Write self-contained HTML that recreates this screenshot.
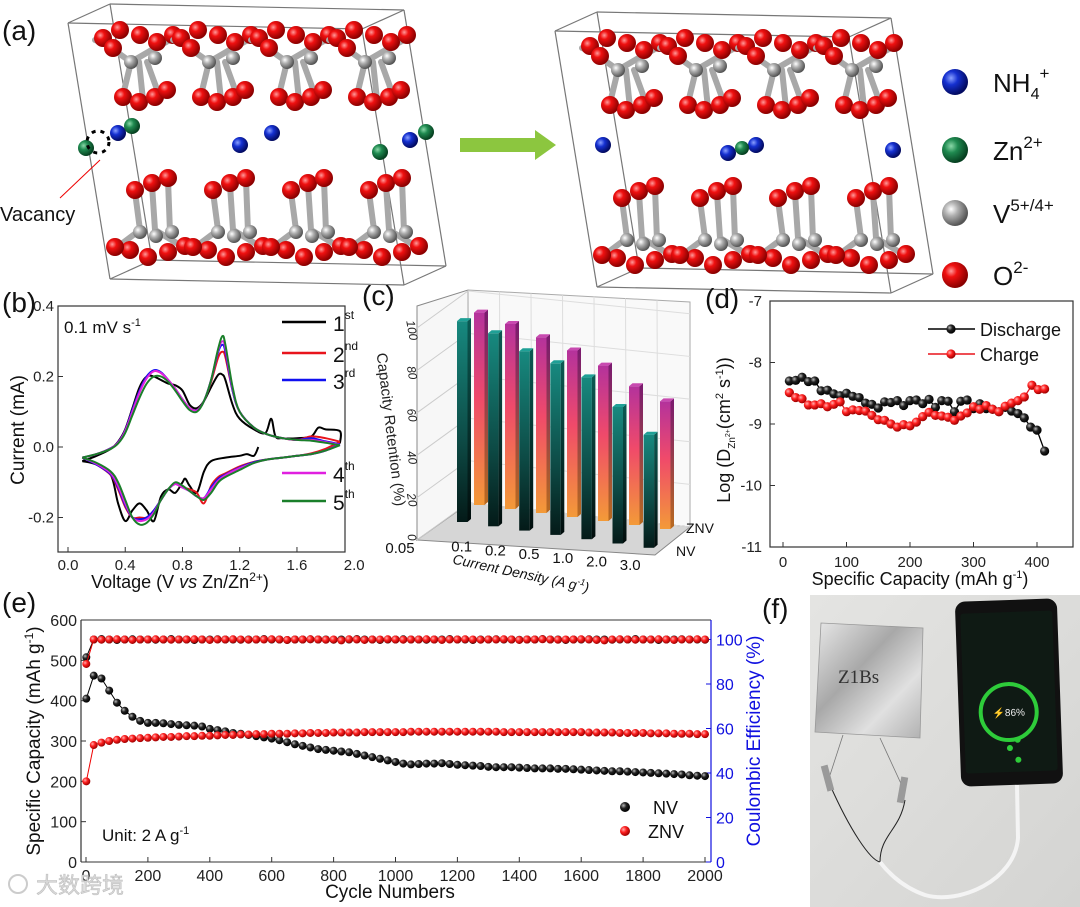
<!DOCTYPE html>
<html><head><meta charset="utf-8">
<style>
html,body{margin:0;padding:0;background:#fff;}
svg{display:block;font-family:"Liberation Sans","Noto Sans CJK SC",sans-serif;}
</style></head>
<body>
<svg id="fig" width="1080" height="907" viewBox="0 0 1080 907" xmlns="http://www.w3.org/2000/svg">
<defs>
<radialGradient id="gRed" cx="35%" cy="35%" r="65%"><stop offset="0" stop-color="#ff9a9a"/><stop offset="0.35" stop-color="#f01010"/><stop offset="1" stop-color="#8a0000"/></radialGradient>
<radialGradient id="gGrey" cx="35%" cy="35%" r="65%"><stop offset="0" stop-color="#ffffff"/><stop offset="0.4" stop-color="#b0b0b0"/><stop offset="1" stop-color="#555"/></radialGradient>
<radialGradient id="gBlue" cx="35%" cy="35%" r="65%"><stop offset="0" stop-color="#8aa0ff"/><stop offset="0.4" stop-color="#1530d0"/><stop offset="1" stop-color="#020a60"/></radialGradient>
<radialGradient id="gGreen" cx="35%" cy="35%" r="65%"><stop offset="0" stop-color="#8ad8a8"/><stop offset="0.4" stop-color="#1f8a50"/><stop offset="1" stop-color="#064020"/></radialGradient>
<radialGradient id="mBlack" cx="35%" cy="35%" r="65%"><stop offset="0" stop-color="#bbb"/><stop offset="0.45" stop-color="#222"/><stop offset="1" stop-color="#000"/></radialGradient>
<radialGradient id="mRed" cx="35%" cy="35%" r="65%"><stop offset="0" stop-color="#ffb0b0"/><stop offset="0.45" stop-color="#ff2020"/><stop offset="1" stop-color="#a00000"/></radialGradient>
<linearGradient id="tealF" x1="0" y1="0" x2="0" y2="1"><stop offset="0" stop-color="#17897f"/><stop offset="0.6" stop-color="#0d4a45"/><stop offset="1" stop-color="#041a18"/></linearGradient>
<linearGradient id="tealS" x1="0" y1="0" x2="0" y2="1"><stop offset="0" stop-color="#0b5a53"/><stop offset="1" stop-color="#020d0c"/></linearGradient>
<linearGradient id="znvF" x1="0" y1="0" x2="0" y2="1"><stop offset="0" stop-color="#b4329c"/><stop offset="0.45" stop-color="#f04a6a"/><stop offset="1" stop-color="#f39a38"/></linearGradient>
<linearGradient id="znvS" x1="0" y1="0" x2="0" y2="1"><stop offset="0" stop-color="#7a1a70"/><stop offset="1" stop-color="#b86a20"/></linearGradient>
<linearGradient id="pouch" x1="0" y1="0" x2="1" y2="1"><stop offset="0" stop-color="#e8e8e8"/><stop offset="0.4" stop-color="#a8a8a8"/><stop offset="0.7" stop-color="#e0e0e0"/><stop offset="1" stop-color="#b0b0b0"/></linearGradient>
<linearGradient id="photoBg" x1="0" y1="0" x2="1" y2="1"><stop offset="0" stop-color="#e4e4e2"/><stop offset="1" stop-color="#d4d4d2"/></linearGradient>
</defs>
<g id="panelA"></g>
<g id="panelB"></g>
<g id="panelC"></g>
<g id="panelD"></g>
<g id="panelE"></g>
<g id="panelF"></g>
</svg>
<script>
// ===== Panel b data (CV curves) =====
const cvVoltUp = [0.1,0.2,0.3,0.35,0.4,0.45,0.5,0.55,0.6,0.65,0.7,0.75,0.8,0.85,0.9,0.95,1.0,1.05,1.08,1.1,1.15,1.2,1.3,1.4,1.5,1.6,1.7,1.8,1.9];
const cvVoltDown = [1.9,1.8,1.7,1.6,1.5,1.4,1.3,1.2,1.1,1.05,1.0,0.95,0.9,0.85,0.8,0.75,0.7,0.65,0.6,0.55,0.5,0.45,0.4,0.35,0.3,0.2,0.1];
const cv2Up = [-0.03,-0.02,-0.003,0.013,0.047,0.105,0.16,0.2,0.215,0.21,0.19,0.165,0.135,0.11,0.105,0.13,0.185,0.255,0.27,0.255,0.16,0.1,0.055,0.035,0.025,0.02,0.03,0.025,0.015];
const cv3Up = [-0.03,-0.02,-0.003,0.013,0.047,0.105,0.16,0.2,0.218,0.212,0.19,0.165,0.135,0.11,0.104,0.13,0.19,0.27,0.29,0.27,0.16,0.1,0.055,0.035,0.025,0.02,0.025,0.016,0.008];
const cv4Up = [-0.03,-0.02,-0.004,0.012,0.045,0.1,0.155,0.195,0.215,0.21,0.19,0.165,0.135,0.11,0.103,0.13,0.19,0.275,0.3,0.28,0.165,0.1,0.055,0.035,0.025,0.02,0.02,0.014,0.006];
const cv5Up = [-0.03,-0.02,-0.005,0.01,0.04,0.09,0.14,0.18,0.2,0.2,0.185,0.16,0.13,0.105,0.1,0.13,0.19,0.28,0.315,0.29,0.17,0.1,0.055,0.035,0.025,0.02,0.018,0.012,0.005];
const cv2Down = [0.015,-0.005,-0.018,-0.025,-0.03,-0.035,-0.042,-0.055,-0.075,-0.085,-0.11,-0.16,-0.13,-0.12,-0.115,-0.105,-0.12,-0.15,-0.18,-0.2,-0.2,-0.2,-0.17,-0.12,-0.08,-0.05,-0.03];
const cv3Down = [0.008,-0.01,-0.02,-0.025,-0.03,-0.035,-0.043,-0.058,-0.078,-0.09,-0.115,-0.145,-0.14,-0.125,-0.115,-0.105,-0.12,-0.15,-0.18,-0.2,-0.205,-0.2,-0.165,-0.115,-0.078,-0.05,-0.03];
const cv4Down = [0.006,-0.01,-0.02,-0.025,-0.03,-0.035,-0.045,-0.06,-0.08,-0.095,-0.12,-0.145,-0.14,-0.125,-0.115,-0.105,-0.12,-0.15,-0.185,-0.205,-0.21,-0.2,-0.16,-0.11,-0.075,-0.048,-0.03];
const cv5Down = [0.005,-0.01,-0.02,-0.025,-0.03,-0.035,-0.045,-0.065,-0.085,-0.1,-0.13,-0.15,-0.14,-0.125,-0.11,-0.1,-0.12,-0.15,-0.19,-0.215,-0.22,-0.2,-0.15,-0.1,-0.07,-0.045,-0.03];
const cv1VoltUp = [0.1,0.2,0.3,0.35,0.4,0.45,0.5,0.55,0.6,0.65,0.7,0.75,0.8,0.85,0.9,0.95,1.0,1.05,1.08,1.1,1.15,1.2,1.3,1.38,1.42,1.45,1.5,1.6,1.7,1.75,1.8,1.9,1.9];
const cv1Up = [-0.04,-0.025,-0.005,0.015,0.05,0.11,0.17,0.2,0.2,0.19,0.18,0.175,0.16,0.12,0.11,0.13,0.17,0.205,0.205,0.19,0.12,0.08,0.05,0.04,0.08,0.03,0.025,0.025,0.03,0.055,0.05,0.045,0.01];
const cv1VoltDown = [1.33,1.3,1.25,1.2,1.1,1.0,0.95,0.9,0.85,0.82,0.8,0.75,0.7,0.65,0.6,0.55,0.5,0.45,0.4,0.35,0.3,0.2,0.1];
const cv1Down = [0.0,-0.025,-0.02,-0.025,-0.03,-0.04,-0.07,-0.13,-0.11,-0.09,-0.1,-0.13,-0.12,-0.14,-0.21,-0.18,-0.16,-0.18,-0.21,-0.16,-0.08,-0.05,-0.04];
const cvXTicks = [0.0,0.4,0.8,1.2,1.6,2.0];
const cvYTicks = [0.4,0.2,0.0,-0.2];

// ===== Panel c data =====
const rateCats = ["0.05","0.1","0.2","0.5","1.0","2.0","3.0"];
const retentionNV = [103,99,92,88,83,70,58];
const retentionZNV = [104,100,95,90,84,75,69];
const retTicks = [0,20,40,60,80,100];

// ===== Panel d data =====
const capDis = [10,20,30,40,50,60,70,80,90,100,110,120,130,140,150,160,170,180,190,200,210,220,230,240,250,260,270,280,290,300,310,320,330,340,350,360,370,380,390,400,412];
const logDDis = [-8.3,-8.29,-8.24,-8.31,-8.3,-8.46,-8.45,-8.51,-8.54,-8.5,-8.55,-8.57,-8.66,-8.68,-8.74,-8.64,-8.65,-8.62,-8.7,-8.62,-8.61,-8.67,-8.6,-8.73,-8.62,-8.63,-8.8,-8.63,-8.61,-8.75,-8.67,-8.75,-8.76,-8.8,-8.73,-8.79,-8.83,-8.9,-9.05,-9.1,-9.44];
const capChg = [10,20,30,40,50,60,70,80,90,100,110,120,130,140,150,160,170,180,190,200,210,220,230,240,250,260,270,280,290,300,310,320,330,340,350,360,370,380,392,402,412];
const logDChg = [-8.49,-8.57,-8.59,-8.69,-8.69,-8.67,-8.72,-8.68,-8.64,-8.8,-8.77,-8.78,-8.79,-8.86,-8.93,-8.94,-9.0,-9.05,-9.01,-9.03,-8.97,-8.88,-8.81,-8.86,-8.87,-8.89,-8.94,-8.87,-8.82,-8.72,-8.76,-8.7,-8.76,-8.8,-8.71,-8.66,-8.62,-8.56,-8.37,-8.44,-8.43];
const dXTicks = [0,100,200,300,400];
const dYTicks = [-7,-8,-9,-10,-11];

// ===== Panel e data =====
const capNV = [405,462,455,425,395,375,360,350,345,345,344,342,340,339,338,336,330,327,324,320,318,315,312,309,306,302,297,292,288,284,280,278,276,274,272,268,264,260,256,252,248,244,242,243,244,244,245,243,241,240,239,238,236,235,235,235,234,233,232,232,232,231,231,230,229,228,227,226,225,225,224,223,222,221,220,219,218,217,215,214,213];
const capZNV = [200,290,296,300,303,305,306,307,308,309,310,310,311,312,312,313,313,314,315,315,316,316,317,317,318,318,318,319,319,320,320,320,321,321,321,321,322,322,322,322,322,322,323,323,323,323,323,323,323,323,323,323,323,323,322,322,322,322,322,322,322,322,322,322,322,321,321,321,321,320,320,320,320,319,319,319,318,318,318,317,317];
const ceNV = [92,100,100.2,100,99.8,100,100.1,100,100,99.9,100,100.2,100,100,99.8,100,100,100.1,100,100,99.9,100,100,100.2,100,100,99.8,100,100,100.1,100,100,99.9,100,100,100.2,100,100,99.8,100,100,100.1,100,100,99.9,100,100,100.2,100,100,99.8,100,100,100.1,100,100,99.9,100,100,100.2,100,100,99.8,100,100,100.1,100,100,99.9,100,100,100.2,100,100,99.8,100,100,100.1,100,100,99.9];
const ceZNV = [89,100,99.9,100,100.1,100,99.8,100,100,100.1,100,99.9,100,100,100.1,100,99.8,100,100,100.1,100,99.9,100,100,100.1,100,99.8,100,100,100.1,100,99.9,100,99.6,100.1,100,99.8,100,100,100.1,100,99.9,100,100,100.1,100,99.8,100,100,100.1,100,99.9,100,100,100.1,100,99.8,100,100,100.1,100,99.9,100,100,100.1,100,99.8,99.6,100,100.1,100,99.9,100,100,100.1,100,99.8,100,100,100.1,100];
const cycles = capNV.map((v,i)=> i===0 ? 1 : i*25);
const eXTicks = [0,200,400,600,800,1000,1200,1400,1600,1800,2000];
const eYTicks = [0,100,200,300,400,500,600];
const ceTicks = [0,20,40,60,80,100];

const NS = "http://www.w3.org/2000/svg";
function mk(tag, attrs, parent, text){
  const e = document.createElementNS(NS, tag);
  for (const k in attrs) e.setAttribute(k, attrs[k]);
  if (text !== undefined) e.textContent = text;
  parent.appendChild(e);
  return e;
}
function smooth(pts){
  let d = "M"+pts[0][0].toFixed(1)+","+pts[0][1].toFixed(1);
  for (let i=0;i<pts.length-1;i++){
    const p0=pts[Math.max(0,i-1)], p1=pts[i], p2=pts[i+1], p3=pts[Math.min(pts.length-1,i+2)];
    const c1x=p1[0]+(p2[0]-p0[0])/6, c1y=p1[1]+(p2[1]-p0[1])/6;
    const c2x=p2[0]-(p3[0]-p1[0])/6, c2y=p2[1]-(p3[1]-p1[1])/6;
    d += " C"+c1x.toFixed(1)+","+c1y.toFixed(1)+" "+c2x.toFixed(1)+","+c2y.toFixed(1)+" "+p2[0].toFixed(1)+","+p2[1].toFixed(1);
  }
  return d;
}

// ================= Panel A =================
(function(){
  const g = document.getElementById('panelA');
  let t = mk('text',{x:2,y:40,'font-size':28,fill:'#111'},g,'(a)');
   
  function structure(ox, oy, name){
    const sg = mk('g',{},g);
     
    const P0=[68+ox,23+oy], a=[42,-19], b=[294,6], c=[42,256];
    const v=(i,j,k)=>[P0[0]+i*a[0]+j*b[0]+k*c[0], P0[1]+i*a[1]+j*b[1]+k*c[1]];
    const edges=[[[0,0,0],[1,0,0]],[[0,0,0],[0,1,0]],[[1,0,0],[1,1,0]],[[0,1,0],[1,1,0]],
      [[0,0,1],[1,0,1]],[[0,0,1],[0,1,1]],[[1,0,1],[1,1,1]],[[0,1,1],[1,1,1]],
      [[0,0,0],[0,0,1]],[[1,0,0],[1,0,1]],[[0,1,0],[0,1,1]],[[1,1,0],[1,1,1]]];
    edges.forEach(e=>{const p=v(...e[0]),q=v(...e[1]);mk('line',{x1:p[0],y1:p[1],x2:q[0],y2:q[1],stroke:'#777','stroke-width':1.2},sg);});
    for (let k=0;k<4;k++){
      const gx = ox+125+k*78, gxb = ox+140+k*78;
      [[-18,45,6,62],[6,62,30,48],[6,62,-2,95],[14,62,18,100],[22,62,34,95],[-30,40,-18,45],[30,48,45,40]].forEach(s=>{
        mk('line',{x1:gx+s[0],y1:oy+s[1],x2:gx+s[2],y2:oy+s[3],stroke:'#a8a8a8','stroke-width':6,'stroke-linecap':'round'},sg);});
      [[-22,38],[-5,30],[15,35],[32,42],[48,35],[-12,48]].forEach(p=>mk('circle',{cx:gx+p[0],cy:oy+p[1],r:9,fill:'url(#gRed)'},sg));
      [[6,62],[30,58]].forEach(p=>mk('circle',{cx:gx+p[0],cy:oy+p[1],r:7,fill:'url(#gGrey)'},sg));
      [[-2,97],[14,102],[30,97],[42,90]].forEach(p=>mk('circle',{cx:gx+p[0],cy:oy+p[1],r:9,fill:'url(#gRed)'},sg));
      [[-5,192,0,230],[12,185,15,230],[28,180,30,232],[0,230,-20,245],[15,230,40,245]].forEach(s=>{
        mk('line',{x1:gxb+s[0],y1:oy+s[1],x2:gxb+s[2],y2:oy+s[3],stroke:'#a8a8a8','stroke-width':6,'stroke-linecap':'round'},sg);});
      [[-5,190],[12,183],[28,178]].forEach(p=>mk('circle',{cx:gxb+p[0],cy:oy+p[1],r:9,fill:'url(#gRed)'},sg));
      [[-10,250],[8,257],[28,252],[45,246],[-25,247]].forEach(p=>mk('circle',{cx:gxb+p[0],cy:oy+p[1],r:9,fill:'url(#gRed)'},sg));
      [[0,232],[16,236],[32,232]].forEach(p=>mk('circle',{cx:gxb+p[0],cy:oy+p[1],r:7,fill:'url(#gGrey)'},sg));
    }
    return sg;
  }
  const s1 = structure(0,0,'pristine-structure');
  [[118,133],[240,145],[272,133],[410,140]].forEach(p=>mk('circle',{cx:p[0],cy:p[1],r:8,fill:'url(#gBlue)'},s1));
  [[132,126],[86,148],[380,152],[426,132]].forEach(p=>mk('circle',{cx:p[0],cy:p[1],r:8,fill:'url(#gGreen)'},s1));
  mk('circle',{cx:98,cy:142,r:11,fill:'none',stroke:'#000','stroke-width':3,'stroke-dasharray':'4 5'},s1);
  mk('line',{x1:60,y1:198,x2:100,y2:160,stroke:'#e00','stroke-width':1},s1);
  t = mk('text',{x:0,y:221,'font-size':20,fill:'#111'},g,'Vacancy');
   
  const s2 = structure(487,8,'zinc-inserted-structure');
  [[603,145],[728,153],[756,145],[893,150]].forEach(p=>mk('circle',{cx:p[0],cy:p[1],r:8,fill:'url(#gBlue)'},s2));
  mk('circle',{cx:742,cy:148,r:7,fill:'url(#gGreen)'},s2);
  const ar = mk('polygon',{points:'460,138 535,138 535,130 556,145 535,160 535,152 460,152',fill:'#8cc63f'},g);
   
  const leg = [['gBlue','NH',82,'4','+'],['gGreen','Zn',150,'','2+'],['gGrey','V',213,'','5+/4+'],['gRed','O',275,'','2-']];
  leg.forEach(l=>{
    const lg = mk('g',{},g);
     
    mk('circle',{cx:955,cy:l[2],r:13,fill:'url('+'#'+l[0]+')'},lg);
    const tx = mk('text',{x:993,y:l[2]+10,'font-size':26,fill:'#111'},lg);
    mk('tspan',{},tx,l[1]);
    if(l[3]) mk('tspan',{'font-size':16,dy:7},tx,l[3]);
    mk('tspan',{'font-size':17,dy:l[3]?-20:-12},tx,l[4]);
  });
})();

// ================= Panel B =================
(function(){
  const g = document.getElementById('panelB');
  const X0=58,X1=345,Y0=306,Y1=552;
  const xb=v=>68+v*143.1, yb=i=>447-i*352.5;
  let t = mk('text',{x:2,y:312,'font-size':28,fill:'#111'},g,'(b)');
   
  const box = mk('rect',{x:X0,y:Y0,width:X1-X0,height:Y1-Y0,fill:'none',stroke:'#333','stroke-width':1.2},g);
   
  cvXTicks.forEach(v=>{
    const x=xb(v);
    if (x<=X1) mk('line',{x1:x,y1:Y1,x2:x,y2:Y1-5,stroke:'#333'},g);
    const tl = mk('text',{x:x,y:Y1+18,'font-size':15,'text-anchor':'middle',fill:'#222'},g,v.toFixed(1));
     
  });
  cvYTicks.forEach(v=>{
    const y=yb(v);
    mk('line',{x1:X0,y1:y,x2:X0+5,y2:y,stroke:'#333'},g);
    const tl = mk('text',{x:X0-4,y:y+5,'font-size':15,'text-anchor':'end',fill:'#222'},g,v.toFixed(1));
     
  });
  t = mk('text',{x:0,y:0,'font-size':19,'text-anchor':'middle',fill:'#111',transform:'translate(24,430) rotate(-90)'},g,'Current (mA)');
   
  t = mk('text',{x:180,y:588,'font-size':18,'text-anchor':'middle',fill:'#111'},g);
   
  mk('tspan',{},t,'Voltage (V '); mk('tspan',{'font-style':'italic'},t,'vs'); mk('tspan',{},t,' Zn/Zn'); mk('tspan',{'font-size':12,dy:-7},t,'2+'); mk('tspan',{dy:7},t,')');
  t = mk('text',{x:64,y:333,'font-size':17,fill:'#111'},g);
   
  mk('tspan',{},t,'0.1 mV s'); mk('tspan',{'font-size':11,dy:-7},t,'-1');
  const series = [
    ['cycle-1','#000',cv1VoltUp,cv1Up,cv1VoltDown,cv1Down,'1','st',322],
    ['cycle-2','#e8141c',cvVoltUp,cv2Up,cvVoltDown,cv2Down,'2','nd',353],
    ['cycle-3','#1010f0',cvVoltUp,cv3Up,cvVoltDown,cv3Down,'3','rd',380],
    ['cycle-4','#e020e0',cvVoltUp,cv4Up,cvVoltDown,cv4Down,'4','th',473],
    ['cycle-5','#1a7f2a',cvVoltUp,cv5Up,cvVoltDown,cv5Down,'5','th',501]
  ];
  series.forEach(s=>{
    const sg = mk('g',{},g);
     
    const up = s[2].map((v,i)=>[xb(v),yb(s[3][i])]);
    const dn = s[4].map((v,i)=>[xb(v),yb(s[5][i])]);
    mk('path',{d:smooth(up),fill:'none',stroke:s[1],'stroke-width':2},sg);
    mk('path',{d:smooth(dn),fill:'none',stroke:s[1],'stroke-width':2},sg);
    const lg = mk('g',{},g);
     
    mk('line',{x1:282,y1:s[8],x2:326,y2:s[8],stroke:s[1],'stroke-width':2.5},lg);
    const tx = mk('text',{x:333,y:s[8]+9,'font-size':21,fill:'#111'},lg);
    mk('tspan',{},tx,s[6]); mk('tspan',{'font-size':12,dy:-12},tx,s[7]);
  });
})();

// ================= Panel C =================
(function(){
  const g = document.getElementById('panelC');
  let t = mk('text',{x:362,y:305,'font-size':28,fill:'#111'},g,'(c)');
   
  const lw = mk('polygon',{points:'417,306 468,290 469,503 417,540',fill:'#f7f7f7',stroke:'#888','stroke-width':1},g);
   
  const bw = mk('polygon',{points:'468,290 690,302 690,527 469,503',fill:'#f9f9f9',stroke:'#aaa','stroke-width':1},g);
   
  const fl = mk('polygon',{points:'417,540 469,503 690,527 655,555',fill:'#d6d6d6',stroke:'#888','stroke-width':1},g);
   
  const yl = v=>540-v*2.12, yw=v=>503-v*2.12;
  retTicks.forEach(v=>{
    mk('line',{x1:417,y1:yl(v),x2:468,y2:yw(v),stroke:'#ccc','stroke-width':1},g);
    mk('line',{x1:468,y1:yw(v),x2:690,y2:yw(v)+24*(1-v/100*0.05),stroke:'#ddd','stroke-width':1},g);
    const tl = mk('text',{x:0,y:0,'font-size':12,'font-style':'italic','text-anchor':'middle',fill:'#222',transform:'translate(408,'+(yl(v)+(v===0?-2:3))+') rotate(80)'},g,String(v));
     
  });
  for(let i=1;i<7;i++){ mk('line',{x1:468+i*31.5,y1:290+i*1.7,x2:469+i*31.5,y2:503+i*3.4,stroke:'#ddd'},g); }
  t = mk('text',{x:0,y:0,'font-size':15,'text-anchor':'middle',fill:'#222',transform:'translate(386,430) rotate(83)'},g,'Capacity Retention (%)');
   
  function bar(bx,by,val,hs,front,side,top,name){
    const h=val*hs, w=10.5, d=3.5;
    const bg = mk('g',{},g);
     
    mk('rect',{x:bx,y:by-h,width:w,height:h,fill:'url(#'+front+')'},bg);
    mk('polygon',{points:[bx+w,by-h, bx+w+d,by-h-3, bx+w+d,by-3, bx+w,by].join(' '),fill:'url(#'+side+')'},bg);
    mk('polygon',{points:[bx,by-h, bx+d,by-h-3, bx+w+d,by-h-3, bx+w,by-h].join(' '),fill:top},bg);
  }
  retentionZNV.forEach((v,i)=>bar(474+i*31,505+i*4,v,1.85,'znvF','znvS','#c84ab0','bar-znv-'+rateCats[i]));
  retentionNV.forEach((v,i)=>bar(457+i*31.1,522+i*4.3,v,1.95,'tealF','tealS','#1fa096','bar-nv-'+rateCats[i]));
  rateCats.forEach((c,i)=>{
    const lx = i===0?400:428+i*33.7, ly=(i===0?553:548)+i*3.7;
    const tl = mk('text',{x:lx,y:ly,'font-size':15,'text-anchor':'middle',fill:'#111'},g,c);
     
  });
  t = mk('text',{x:0,y:0,'font-size':14,'font-style':'italic','text-anchor':'middle',fill:'#111',transform:'translate(520,578) rotate(12)'},g);
   
  mk('tspan',{},t,'Current Density (A g'); mk('tspan',{'font-size':9,dy:-6},t,'-1'); mk('tspan',{dy:6},t,')');
  t = mk('text',{x:686,y:533,'font-size':14,fill:'#111'},g,'ZNV');
   
  t = mk('text',{x:676,y:556,'font-size':14,fill:'#111'},g,'NV');
   
})();

// ================= Panel D =================
(function(){
  const g = document.getElementById('panelD');
  const X0=770,X1=1073,Y0=301,Y1=547;
  const xd=c=>783+c*0.635, yd=v=>301-(v+7)*61.5;
  let t = mk('text',{x:705,y:308,'font-size':28,fill:'#111'},g,'(d)');
   
  const box = mk('rect',{x:X0,y:Y0,width:X1-X0,height:Y1-Y0,fill:'none',stroke:'#333','stroke-width':1.2},g);
   
  dXTicks.forEach(v=>{
    mk('line',{x1:xd(v),y1:Y1,x2:xd(v),y2:Y1-5,stroke:'#333'},g);
    const tl = mk('text',{x:xd(v),y:Y1+20,'font-size':15,'text-anchor':'middle',fill:'#222'},g,String(v));
     
  });
  dYTicks.forEach(v=>{
    mk('line',{x1:X0,y1:yd(v),x2:X0+5,y2:yd(v),stroke:'#333'},g);
    const tl = mk('text',{x:X0-8,y:yd(v)+5,'font-size':15,'text-anchor':'end',fill:'#222'},g,String(v));
     
  });
  t = mk('text',{x:920,y:585,'font-size':18,'text-anchor':'middle',fill:'#111'},g);
   
  mk('tspan',{},t,'Specific Capacity (mAh g'); mk('tspan',{'font-size':11,dy:-7},t,'-1'); mk('tspan',{dy:7},t,')');
  t = mk('text',{x:0,y:0,'font-size':18,'text-anchor':'middle',fill:'#111',transform:'translate(730,430) rotate(-90)'},g);
   
  mk('tspan',{},t,'Log (D'); mk('tspan',{'font-size':10,dy:5},t,'Zn'); mk('tspan',{'font-size':7,dy:-5},t,'2+'); mk('tspan',{dy:0},t,'(cm'); mk('tspan',{'font-size':11,dy:-7},t,'2'); mk('tspan',{dy:7},t,' s'); mk('tspan',{'font-size':11,dy:-7},t,'-1'); mk('tspan',{dy:7},t,'))');
  [['discharge',capDis,logDDis,'#000','mBlack',329,'Discharge'],['charge',capChg,logDChg,'#e8141c','mRed',354,'Charge']].forEach(s=>{
    const sg = mk('g',{},g);
     
    mk('polyline',{points:s[1].map((c,i)=>xd(c)+','+yd(s[2][i])).join(' '),fill:'none',stroke:s[3],'stroke-width':1.3},sg);
    s[1].forEach((c,i)=>{
      const m = mk('circle',{cx:xd(c),cy:yd(s[2][i]),r:4.6,fill:'url(#'+s[4]+')'},sg);
       
    });
    const lg = mk('g',{},g);
     
    mk('line',{x1:928,y1:s[5],x2:975,y2:s[5],stroke:s[3],'stroke-width':1.5},lg);
    mk('circle',{cx:951,cy:s[5],r:4.6,fill:'url(#'+s[4]+')'},lg);
    mk('text',{x:980,y:s[5]+7,'font-size':18,fill:'#111'},lg,s[6]);
  });
})();

// ================= Panel E =================
(function(){
  const g = document.getElementById('panelE');
  const X0=81,X1=711,Y0=620,Y1=862;
  const xe=c=>86+c*0.3095, ye=v=>862-v*0.4033, yce=p=>862-p*2.225;
  let t = mk('text',{x:2,y:612,'font-size':28,fill:'#111'},g,'(e)');
   
  mk('line',{x1:X0,y1:Y0,x2:X1,y2:Y0,stroke:'#333'},g);
  mk('line',{x1:X0,y1:Y1,x2:X1,y2:Y1,stroke:'#333'},g);
  const la = mk('line',{x1:X0,y1:Y0,x2:X0,y2:Y1,stroke:'#333','stroke-width':1.2},g);
   
  const ra = mk('line',{x1:X1,y1:Y0,x2:X1,y2:Y1,stroke:'#1010e0','stroke-width':1.2},g);
   
  eXTicks.forEach(v=>{
    mk('line',{x1:xe(v),y1:Y1,x2:xe(v),y2:Y1-5,stroke:'#333'},g);
    const tl = mk('text',{x:xe(v),y:Y1+19,'font-size':16,'text-anchor':'middle',fill:'#222'},g,String(v));
     
  });
  eYTicks.forEach(v=>{
    mk('line',{x1:X0,y1:ye(v),x2:X0+5,y2:ye(v),stroke:'#333'},g);
    const tl = mk('text',{x:X0-4,y:ye(v)+6,'font-size':16,'text-anchor':'end',fill:'#222'},g,String(v));
     
  });
  ceTicks.forEach(v=>{
    mk('line',{x1:X1,y1:yce(v),x2:X1-5,y2:yce(v),stroke:'#1010e0'},g);
    const tl = mk('text',{x:X1+5,y:yce(v)+6,'font-size':16,fill:'#1010e0'},g,String(v));
     
  });
  t = mk('text',{x:0,y:0,'font-size':19,'text-anchor':'middle',fill:'#111',transform:'translate(40,741) rotate(-90)'},g);
   
  mk('tspan',{},t,'Specific Capacity (mAh g'); mk('tspan',{'font-size':12,dy:-7},t,'-1'); mk('tspan',{dy:7},t,')');
  t = mk('text',{x:0,y:0,'font-size':19,'text-anchor':'middle',fill:'#1010e0',transform:'translate(760,741) rotate(-90)'},g,'Coulombic Efficiency (%)');
   
  t = mk('text',{x:390,y:898,'font-size':19,'text-anchor':'middle',fill:'#111'},g,'Cycle Numbers');
   
  function pts(name,vals,yf,grad,line){
    const sg = mk('g',{},g);
     
    mk('polyline',{points:cycles.map((c,i)=>xe(c)+','+yf(vals[i])).join(' '),fill:'none',stroke:line,'stroke-width':1},sg);
    cycles.forEach((c,i)=>{
      const m = mk('circle',{cx:xe(c),cy:yf(vals[i]),r:4,fill:'url(#'+grad+')'},sg);
       
    });
  }
  pts('nv-capacity',capNV,ye,'mBlack','#000');
  pts('znv-capacity',capZNV,ye,'mRed','#e00');
  pts('nv-efficiency',ceNV,yce,'mBlack','#000');
  pts('znv-efficiency',ceZNV,yce,'mRed','#e00');
  let lg = mk('g',{},g);
   
  mk('circle',{cx:625,cy:807,r:5,fill:'url(#mBlack)'},lg);
  mk('text',{x:653,y:814,'font-size':18,fill:'#111'},lg,'NV');
  lg = mk('g',{},g);
   
  mk('circle',{cx:625,cy:831,r:5,fill:'url(#mRed)'},lg);
  mk('text',{x:648,y:838,'font-size':18,fill:'#111'},lg,'ZNV');
  t = mk('text',{x:102,y:841,'font-size':17,fill:'#111'},g);
   
  mk('tspan',{},t,'Unit: 2 A g'); mk('tspan',{'font-size':11,dy:-7},t,'-1');
  t = mk('text',{x:36,y:893,'font-size':22,fill:'#d8d8d8',stroke:'#bbb','stroke-width':0.5},g,'大数跨境');
   
  mk('circle',{cx:18,cy:884,r:9,fill:'none',stroke:'#ccc','stroke-width':2},g);
})();

// ================= Panel F =================
(function(){
  const g = document.getElementById('panelF');
  let t = mk('text',{x:762,y:618,'font-size':28,fill:'#111'},g,'(f)');
   
  const bg = mk('rect',{x:810,y:595,width:270,height:312,fill:'url(#photoBg)'},g);
   
  const pouch = mk('polygon',{points:'821,623 923,628 920,738 815,732',fill:'url(#pouch)',stroke:'#999','stroke-width':0.8},g);
   
  t = mk('text',{x:838,y:683,'font-size':19,fill:'#333','font-family':'Liberation Serif, serif'},g,'Z1Bs');
   
  mk('path',{d:'M843,735 L830,775 M880,738 L903,788',stroke:'#777','stroke-width':0.8,fill:'none'},g);
  mk('path',{d:'M830,785 C850,830 870,860 880,862 M905,800 C900,830 880,835 880,862',stroke:'#222','stroke-width':1,fill:'none'},g);
  mk('rect',{x:824,y:765,width:7,height:26,fill:'#9a9a9a',transform:'rotate(-15 828 778)'},g);
  mk('rect',{x:899,y:777,width:7,height:26,fill:'#9a9a9a',transform:'rotate(10 903 790)'},g);
  const cable = mk('path',{d:'M1017,785 L1018,838 C1015,880 960,905 925,895 C905,888 890,875 880,862',stroke:'#f4f4f4','stroke-width':4,fill:'none'},g);
   
  const phone = mk('g',{transform:'rotate(-2 1010 692)'},g);
   
  mk('rect',{x:958,y:600,width:102,height:185,rx:10,fill:'#111'},phone);
  mk('rect',{x:963,y:612,width:92,height:160,rx:3,fill:'#0f1a14'},phone);
  mk('circle',{cx:1008,cy:712,r:28,fill:'none',stroke:'#2ecc3a','stroke-width':4},phone);
  mk('text',{x:1008,y:716,'font-size':10,'text-anchor':'middle',fill:'#eee'},phone,'⚡86%');
  mk('circle',{cx:1016,cy:740,r:3,fill:'#2ecc3a'},phone);
  mk('circle',{cx:1008,cy:748,r:3,fill:'#2ecc3a'},phone);
  mk('circle',{cx:1016,cy:760,r:3,fill:'#2ecc3a'},phone);
})();
</script>
</body></html>
